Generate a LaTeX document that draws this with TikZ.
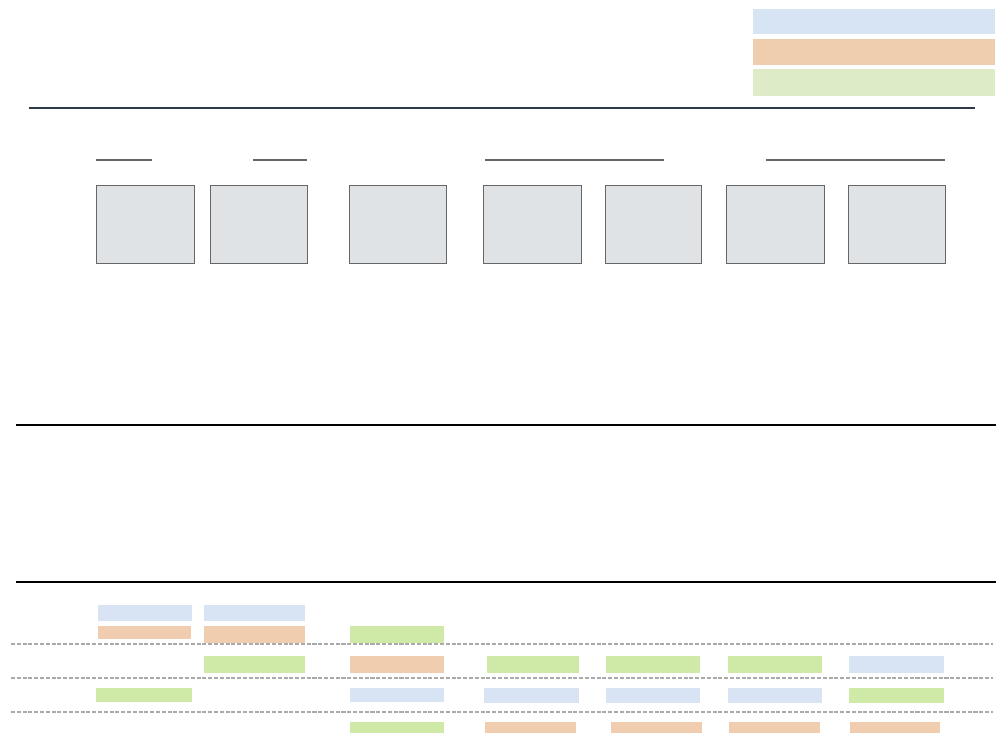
\documentclass[tikz,border=0pt]{standalone}
\usepackage{xcolor}
\definecolor{legblue}{HTML}{D7E4F4}
\definecolor{legorange}{HTML}{EFCDAF}
\definecolor{leggreen}{HTML}{DDEBC6}
\definecolor{barblue}{HTML}{D8E4F3}
\definecolor{barorange}{HTML}{EFCDAE}
\definecolor{bargreen}{HTML}{CFEAA6}
\definecolor{boxfill}{HTML}{DFE3E6}
\definecolor{boxline}{HTML}{666666}
\definecolor{rulecol}{HTML}{2E3A46}
\definecolor{dashcol}{HTML}{AAAAAA}
\begin{document}
\begin{tikzpicture}[
  x=0.02cm, y=-0.02cm,
  stagebox/.style={draw=boxline, fill=boxfill, line width=0.5pt},
  groupline/.style={draw=boxline, line width=1.3pt},
  sectionline/.style={draw=black, line width=0.6pt},
  rowline/.style={draw=dashcol, line width=0.6pt, dash pattern=on 2.3pt off 1pt},
  bblue/.style={fill=barblue},
  borange/.style={fill=barorange},
  bgreen/.style={fill=bargreen}
]
  \useasboundingbox (0,0) rectangle (1000,750);

  % legend
  \fill[legblue] (753,9) rectangle (995,34);
  \fill[legorange] (753,39) rectangle (995,65);
  \fill[leggreen] (753,69) rectangle (995,96);

  % rules
  \draw[draw=rulecol, line width=0.6pt] (29,108) -- (975,108);
  \draw[sectionline] (16,425) -- (996,425);
  \draw[sectionline] (16,582) -- (996,582);

  % group headers
  \draw[groupline] (96,160) -- (152,160);
  \draw[groupline] (253,160) -- (307,160);
  \draw[groupline] (485,160) -- (664,160);
  \draw[groupline] (766,160) -- (945,160);

  % stages
  \draw[stagebox] (96,185) rectangle (194,263);
  \draw[stagebox] (210,185) rectangle (307,263);
  \draw[stagebox] (349,185) rectangle (446,263);
  \draw[stagebox] (483,185) rectangle (581,263);
  \draw[stagebox] (605,185) rectangle (701,263);
  \draw[stagebox] (726,185) rectangle (824,263);
  \draw[stagebox] (848,185) rectangle (945,263);

  % row separators
  \draw[rowline] (11,644) -- (993,644);
  \draw[rowline] (11,678) -- (993,678);
  \draw[rowline] (11,712) -- (993,712);

  % row 0
  \fill[bblue] (98,605) rectangle (192,621);
  \fill[bblue] (204,605) rectangle (305,621);
  \fill[borange] (98,626) rectangle (191,639);
  \fill[borange] (204,626) rectangle (305,643);
  \fill[bgreen] (350,626) rectangle (444,643);

  % row 1
  \fill[bgreen] (204,656) rectangle (305,673);
  \fill[borange] (350,656) rectangle (444,673);
  \fill[bgreen] (487,656) rectangle (579,673);
  \fill[bgreen] (606,656) rectangle (700,673);
  \fill[bgreen] (728,656) rectangle (822,673);
  \fill[bblue] (849,656) rectangle (944,673);

  % row 2
  \fill[bgreen] (96,688) rectangle (192,702);
  \fill[bblue] (350,688) rectangle (444,702);
  \fill[bblue] (484,688) rectangle (579,703);
  \fill[bblue] (606,688) rectangle (700,703);
  \fill[bblue] (728,688) rectangle (822,703);
  \fill[bgreen] (849,688) rectangle (944,703);

  % row 3
  \fill[bgreen] (350,722) rectangle (444,733);
  \fill[borange] (485,722) rectangle (576,733);
  \fill[borange] (611,722) rectangle (702,733);
  \fill[borange] (729,722) rectangle (820,733);
  \fill[borange] (850,722) rectangle (940,733);
\end{tikzpicture}
\end{document}
